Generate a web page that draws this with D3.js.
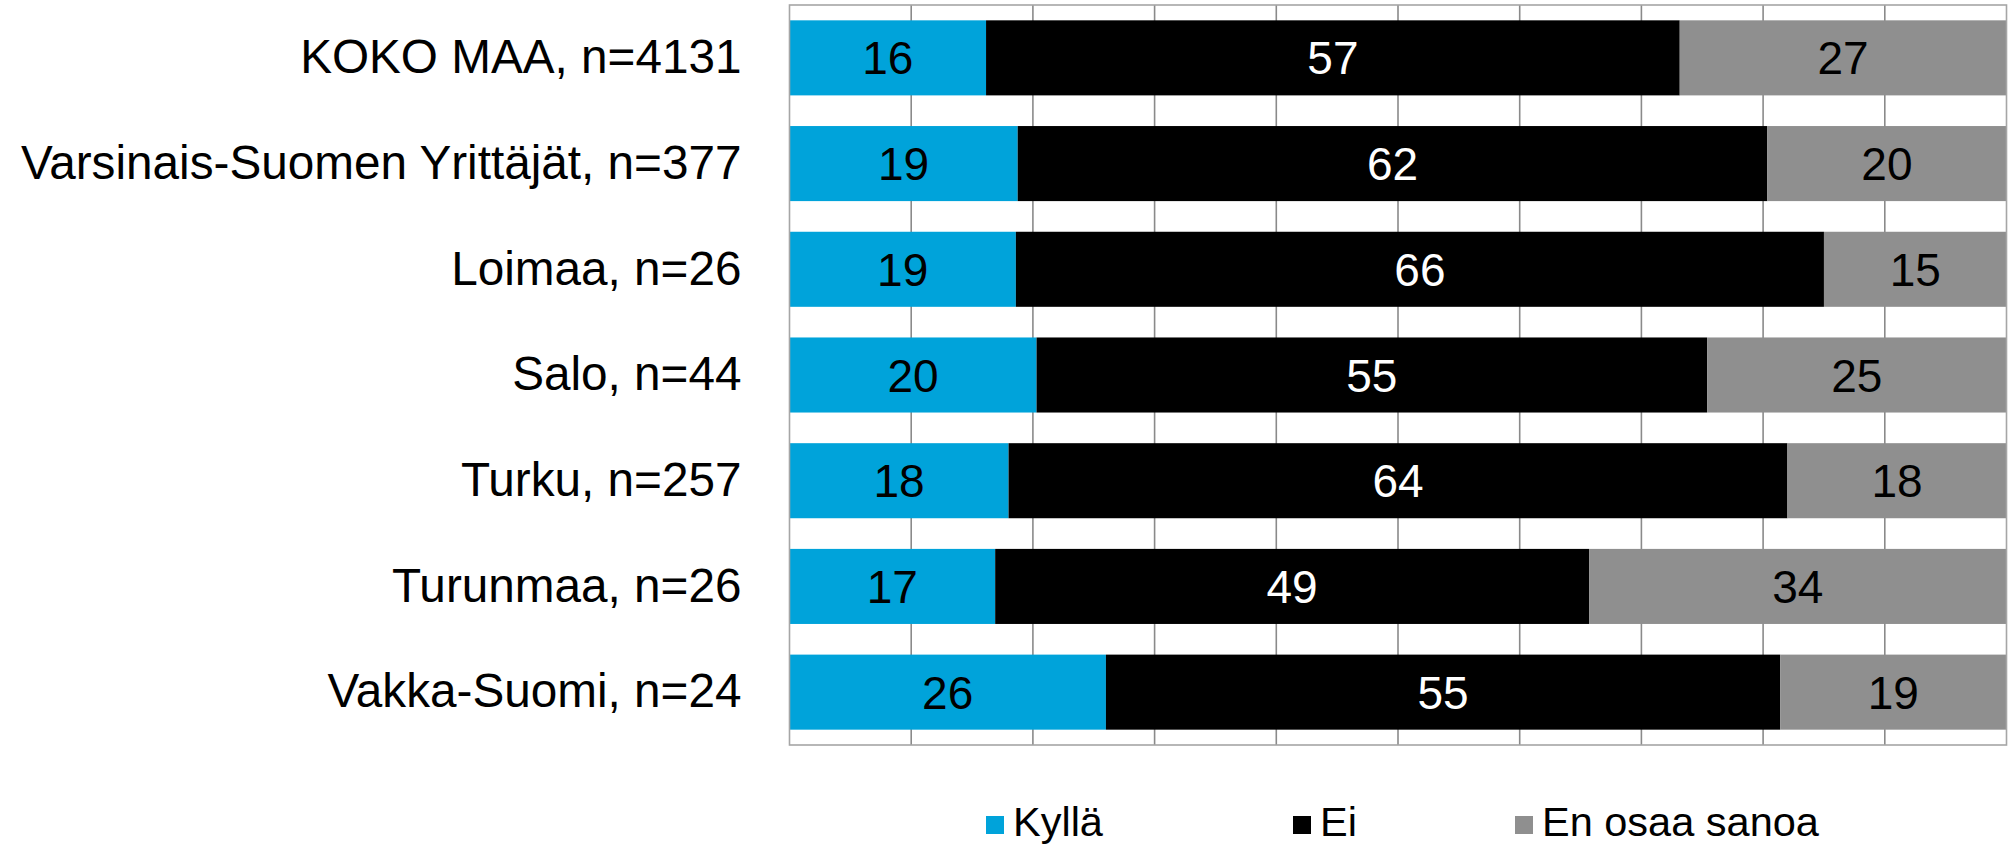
<!DOCTYPE html>
<html>
<head>
<meta charset="utf-8">
<script src="https://cdn.jsdelivr.net/npm/d3@7"></script>
<style>
  html, body { margin: 0; padding: 0; background: #fff; }
  svg { display: block; font-family: "Liberation Sans", Arial, sans-serif; }
</style>
</head>
<body>
<svg id="chart" width="2011" height="846"></svg>
<script>
const categories = [
  "KOKO MAA, n=4131",
  "Varsinais-Suomen Yrittäjät, n=377",
  "Loimaa, n=26",
  "Salo, n=44",
  "Turku, n=257",
  "Turunmaa, n=26",
  "Vakka-Suomi, n=24"
];
const seriesNames = ["Kyllä", "Ei", "En osaa sanoa"];
const kylla = [16.15, 18.75, 18.6, 20.3, 18.0, 16.9, 26.0];
const ei    = [57.0, 61.6, 66.4, 55.1, 64.0, 48.8, 55.4];
const eos   = [26.85, 19.65, 15.0, 24.6, 18.0, 34.3, 18.6];
const xTicks = [0, 10, 20, 30, 40, 50, 60, 70, 80, 90, 100];

const colors = ["#00A3DA", "#000000", "#8F8F8F"];
const textColors = ["#000000", "#FFFFFF", "#000000"];

const svg = d3.select("#chart");
const plot = { left: 789.5, right: 2006.5, top: 5, bottom: 745 };

const rows = categories.map((c, i) => ({ cat: c, "Kyllä": kylla[i], "Ei": ei[i], "En osaa sanoa": eos[i] }));
const stacked = d3.stack().keys(seriesNames)(rows);

const x = d3.scaleLinear().domain([0, 100]).range([plot.left, plot.right]);
const y = d3.scaleBand().domain(categories).range([plot.top, plot.bottom])
  .paddingInner(0.29).paddingOuter(0.145);

// gridlines
svg.append("g").selectAll("line").data(xTicks.slice(1, -1)).join("line")
  .attr("x1", d => x(d)).attr("x2", d => x(d))
  .attr("y1", plot.top).attr("y2", plot.bottom)
  .attr("stroke", "#8a8a8a").attr("stroke-width", 1.6);

// bars
const g = svg.append("g");
stacked.forEach((s, si) => {
  g.append("g").selectAll("rect").data(s).join("rect")
    .attr("x", d => x(d[0]))
    .attr("width", d => x(d[1]) - x(d[0]))
    .attr("y", d => y(d.data.cat))
    .attr("height", y.bandwidth())
    .attr("fill", colors[si]);
  g.append("g").selectAll("text").data(s).join("text")
    .attr("x", d => (x(d[0]) + x(d[1])) / 2)
    .attr("y", d => y(d.data.cat) + y.bandwidth() / 2)
    .attr("dy", "0.36em")
    .attr("text-anchor", "middle")
    .attr("font-size", 46)
    .attr("fill", textColors[si])
    .text(d => d3.format(".0f")(d[1] - d[0]));
});

// plot border
svg.append("rect")
  .attr("x", plot.left).attr("y", plot.top)
  .attr("width", plot.right - plot.left).attr("height", plot.bottom - plot.top)
  .attr("fill", "none").attr("stroke", "#a6a6a6").attr("stroke-width", 1.6);

// category axis labels
const yAxis = d3.axisLeft(y).tickSize(0).tickPadding(48);
const ya = svg.append("g").attr("transform", `translate(${plot.left},0)`).call(yAxis);
ya.select(".domain").remove();
ya.selectAll("text").attr("font-size", 47.7).attr("fill", "#000")
  .attr("font-family", "'Liberation Sans', Arial, sans-serif");

// legend
const legendX = [986, 1293, 1515];
const leg = svg.append("g");
seriesNames.forEach((name, i) => {
  leg.append("rect").attr("x", legendX[i]).attr("y", 816).attr("width", 18).attr("height", 18)
    .attr("fill", colors[i]);
  leg.append("text").attr("x", legendX[i] + 27).attr("y", 836)
    .attr("font-size", 41.5).attr("fill", "#000").text(name);
});
</script>
</body>
</html>
